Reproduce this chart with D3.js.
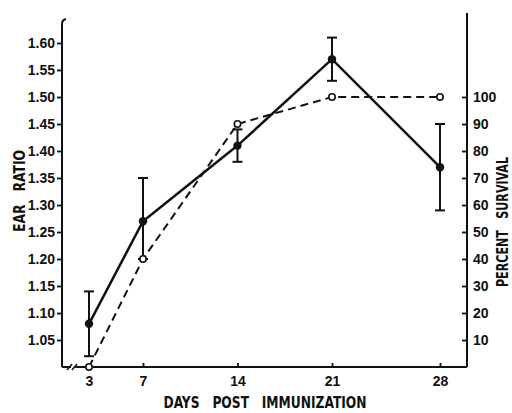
<!DOCTYPE html>
<meta charset="utf-8">
<script src="https://d3js.org/d3.v7.min.js"></script>
<style>
  body { margin: 0; background: #fff; }
  .tk text { font-family: "Liberation Sans", Arial, sans-serif; font-weight: bold; font-size: 14px; fill: #111; }
  .tk line { stroke: #111; stroke-width: 1.8; }
  .ttl { font-family: "Liberation Sans Narrow", "DejaVu Sans Condensed", sans-serif; font-weight: bold; font-size: 15px; fill: #111; white-space: pre; }
</style>
<svg width="512" height="413"></svg>
<script>

  // data
  var days = [3, 7, 14, 21, 28];
  var earRatio = [1.08, 1.27, 1.41, 1.57, 1.37];
  var earLow = [1.02, 1.20, 1.38, 1.53, 1.29];
  var earHigh = [1.14, 1.35, 1.44, 1.61, 1.45];
  var survival = [0, 40, 90, 100, 100];
  var leftTicks = [1.05, 1.10, 1.15, 1.20, 1.25, 1.30, 1.35, 1.40, 1.45, 1.50, 1.55, 1.60];
  var rightTicks = [10, 20, 30, 40, 50, 60, 70, 80, 90, 100];

  var svg = d3.select("svg");
  var left = 62, right = 467, bottom = 367;

  // the day axis is not quite even in the original, 21 to 28 is stretched
  var x = d3.scaleLinear().domain([3, 21, 28]).range([89, 332, 440]);
  var yL = d3.scaleLinear().domain([1.0, 1.6]).range([bottom, 43]);
  var yR = d3.scaleLinear().domain([0, 100]).range([bottom, yL(1.5)]);

  // axes
  var gl = svg.append("g").attr("class", "tk")
    .attr("transform", "translate(" + left + ",0)")
    .call(d3.axisLeft(yL).tickValues(leftTicks).tickSize(5).tickPadding(2)
      .tickFormat(d3.format(".2f")));
  gl.select(".domain").remove();

  var gr = svg.append("g").attr("class", "tk")
    .attr("transform", "translate(" + right + ",0)")
    .call(d3.axisRight(yR).tickValues(rightTicks).tickSize(-5).tickPadding(6));
  gr.select(".domain").remove();

  var gb = svg.append("g").attr("class", "tk")
    .attr("transform", "translate(0," + bottom + ")")
    .call(d3.axisBottom(x).tickValues(days).tickSize(-4).tickPadding(9));
  gb.select(".domain").remove();

  var frame = svg.append("g").attr("stroke", "#111").attr("stroke-width", 2).attr("fill", "none");
  frame.append("path").attr("d", "M" + left + "," + bottom + "V24Q" + left + ",20 " + (left + 4) + ",19");
  frame.append("path").attr("d", "M" + right + "," + bottom + "V13");
  frame.append("path").attr("d", "M" + left + "," + bottom + "H" + right);
  // axis break
  frame.append("path").attr("stroke", "#fff").attr("stroke-width", 4).attr("d", "M71," + bottom + "H75");
  frame.append("path").attr("stroke-width", 1.5)
    .attr("d", "M67," + (bottom + 3) + "L72," + (bottom - 3) + "M72," + (bottom + 3) + "L77," + (bottom - 3));

  // survival (dashed, open circles)
  var survPts = days.map(function(d, i) { return [x(d), yR(survival[i])]; });
  svg.append("path")
    .attr("d", d3.line()(survPts))
    .attr("fill", "none").attr("stroke", "#111").attr("stroke-width", 2)
    .attr("stroke-dasharray", "8,5");

  // ear ratio error bars
  var eb = svg.append("g").attr("stroke", "#111").attr("stroke-width", 2);
  days.forEach(function(d, i) {
    var cx = x(d);
    eb.append("line").attr("x1", cx).attr("x2", cx).attr("y1", yL(earLow[i])).attr("y2", yL(earHigh[i]));
    eb.append("line").attr("x1", cx - 5).attr("x2", cx + 5).attr("y1", yL(earHigh[i])).attr("y2", yL(earHigh[i]));
    eb.append("line").attr("x1", cx - 5).attr("x2", cx + 5).attr("y1", yL(earLow[i])).attr("y2", yL(earLow[i]));
  });

  // ear ratio (solid, filled circles)
  svg.append("path")
    .attr("d", d3.line().x(function(d) { return x(d); }).y(function(d, i) { return yL(earRatio[i]); })(days))
    .attr("fill", "none").attr("stroke", "#111").attr("stroke-width", 2.5);

  svg.append("g").selectAll("circle").data(days).enter().append("circle")
    .attr("cx", function(d) { return x(d); })
    .attr("cy", function(d, i) { return yL(earRatio[i]); })
    .attr("r", 4.2).attr("fill", "#111");

  svg.append("g").selectAll("circle").data(days).enter().append("circle")
    .attr("cx", function(d) { return x(d); })
    .attr("cy", function(d, i) { return yR(survival[i]); })
    .attr("r", 3.2).attr("fill", "#fff").attr("stroke", "#111").attr("stroke-width", 1.6);

  // titles
  svg.append("text").attr("class", "ttl")
    .attr("transform", "translate(25,191) rotate(-90)")
    .attr("text-anchor", "middle").attr("textLength", 82).attr("lengthAdjust", "spacingAndGlyphs")
    .text("EAR   RATIO");
  svg.append("text").attr("class", "ttl")
    .attr("transform", "translate(508,222) rotate(-90)")
    .attr("text-anchor", "middle").attr("textLength", 130).attr("lengthAdjust", "spacingAndGlyphs")
    .text("PERCENT   SURVIVAL");
  svg.append("text").attr("class", "ttl")
    .attr("x", 265).attr("y", 408)
    .attr("text-anchor", "middle").attr("textLength", 203).attr("lengthAdjust", "spacingAndGlyphs")
    .style("font-size", "15.5px")
    .text("DAYS   POST   IMMUNIZATION");

</script>
